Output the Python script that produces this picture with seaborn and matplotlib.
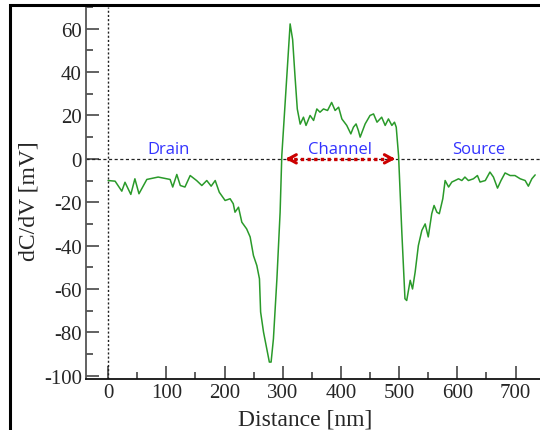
import matplotlib
matplotlib.use("Agg")
import matplotlib.pyplot as plt
from matplotlib.patches import Rectangle
from matplotlib.ticker import MultipleLocator
import seaborn as sns
import pandas as pd

# profile
distance = [0, 12, 23.5, 29, 39, 46, 53, 66.5, 86, 106.5, 111, 118, 124, 132, 141,
            152, 161, 169.5, 177, 184, 191, 201, 209.6, 215, 218, 224, 229.7, 238,
            244, 249.7, 255.5, 260, 262, 267, 272.6, 277, 280, 284, 290, 295.5,
            298.4, 312.7, 317, 321, 325, 330, 335.6, 340, 347, 353, 358.6, 364,
            370, 377, 384, 390, 396, 401.6, 410, 417, 421.5, 426, 430, 433, 441.6,
            450, 456, 462, 470, 476, 481.6, 487.5, 492, 495, 499, 504.6, 510, 513,
            519, 523, 527.5, 533, 539, 544.7, 550, 556, 560, 564.8, 569, 575, 579,
            585, 590.5, 596, 602, 607.7, 613, 619, 627.6, 634.5, 639, 648, 656,
            662, 669, 675, 682, 690.7, 699, 708, 716.5, 722, 728, 733.7]
dcdv = [-10, -10.3, -14.9, -10.8, -16.4, -9.2, -16.1, -9.5, -8.4, -9.5, -13, -7.2,
        -12.3, -13, -7.7, -10, -12.3, -10, -12.6, -10, -15.4, -19.2, -18.4, -20.7,
        -24.6, -22.3, -29.2, -32.3, -36, -44.6, -49.2, -55.3, -70.6, -79.9, -87.6,
        -93.7, -93.7, -83, -55.3, -24.6, 1.5, 62.2, 55, 38.4, 23, 16, 19.2, 15.4,
        20, 17.7, 23, 21.5, 23, 22.3, 26, 22.3, 23.8, 18.4, 15.4, 11.5, 14.6, 16.1,
        13, 10, 16.1, 20, 20.7, 16.9, 19.2, 15.4, 18.4, 15.4, 16.9, 14.6, 1.5,
        -33.8, -64.5, -65.3, -56, -60, -52.2, -40, -33, -30, -36, -25.3, -21.5,
        -24.6, -25.3, -18.4, -10, -13, -10.7, -10, -9.2, -10, -8.4, -10, -9.2,
        -7.7, -10.7, -10, -6.1, -8.4, -13.5, -10, -6.5, -7.7, -7.7, -9.2, -10,
        -12.6, -9.2, -7.4]

regions = ["Drain", "Channel", "Source"]
region_x = [103, 399, 636]
channel_start = 300
channel_end = 498

df = pd.DataFrame({"Distance": distance, "dCdV": dcdv})

sns.set_style("ticks")
plt.rcParams["font.family"] = ["Liberation Serif", "DejaVu Serif"]
plt.rcParams["axes.unicode_minus"] = False

fig = plt.figure(figsize=(5.4, 4.31), dpi=100)
ax = fig.add_axes([86 / 540, 1 - 380 / 431, 454 / 540, 372 / 431])

sns.lineplot(data=df, x="Distance", y="dCdV", ax=ax, color="#2a9a2a", linewidth=1.1)

ax.axhline(0, color="#222222", linestyle=(0, (2.5, 2)), linewidth=0.9, zorder=1)
ax.axvline(0, color="#222222", linestyle=(0, (1.5, 1.5)), linewidth=1.0, zorder=1)

# channel arrow
ax.plot([channel_start + 8, channel_end - 8], [0, 0], color="#cc0000",
        linestyle=(0, (1, 1)), linewidth=2.4, zorder=3)
for tail, head in [(channel_start + 20, channel_start), (channel_end - 20, channel_end)]:
    ax.annotate("", xy=(head, 0), xytext=(tail, 0),
                arrowprops=dict(arrowstyle="->,head_length=0.55,head_width=0.3",
                                color="#cc0000", lw=2.2), zorder=4)

for name, xpos in zip(regions, region_x):
    ax.text(xpos, 1.0, name, color="#3333ff", fontsize=12, ha="center", va="bottom",
            family=["Open Sans", "DejaVu Sans"])

ax.set_xlim(-38, 742)
ax.set_ylim(-101.5, 70)
ax.xaxis.set_major_locator(MultipleLocator(100))
ax.xaxis.set_minor_locator(MultipleLocator(50))
ax.yaxis.set_major_locator(MultipleLocator(20))
ax.yaxis.set_minor_locator(MultipleLocator(10))
ax.tick_params(which="major", direction="in", length=9.5, width=1.3, color="#555555",
               labelsize=15, pad=3)
ax.tick_params(which="minor", direction="in", length=5, width=1.1, color="#333333")

sns.despine(ax=ax, top=True, right=True)
ax.spines["left"].set_color("#555555")
ax.spines["left"].set_linewidth(1.3)
ax.spines["bottom"].set_color("#111111")
ax.spines["bottom"].set_linewidth(1.3)

ax.set_xlabel("Distance [nm]", fontsize=17)
ax.set_ylabel("dC/dV [mV]", fontsize=17)
ax.xaxis.set_label_coords(0.482, -0.08)
ax.yaxis.set_label_coords(-0.102, 0.48)

# panel frame
fig.add_artist(Rectangle((10 / 540, -0.2), 1.5, 0.2 + 1 - 6 / 431, fill=False,
                         edgecolor="black", linewidth=2.2, transform=fig.transFigure,
                         clip_on=False))

fig.savefig("out.png", dpi=100)
